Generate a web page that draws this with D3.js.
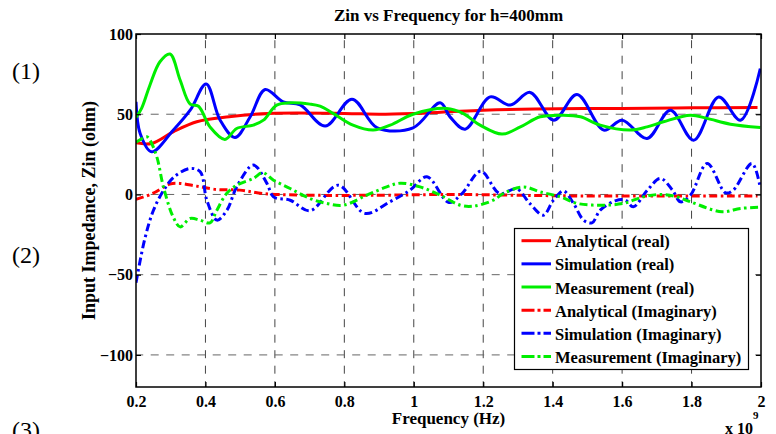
<!DOCTYPE html>
<html>
<head>
<meta charset="utf-8">
<script src="https://cdn.jsdelivr.net/npm/d3@7"></script>
<style>
  body { margin: 0; background: #fff; }
  svg text { font-family: "Liberation Serif", "Times New Roman", serif; font-weight: bold; fill: #000; }
</style>
</head>
<body>
<svg id="chart" width="776" height="434"></svg>
<script>
// frequency in GHz (axis is labelled x 10^9), impedance in ohm
const anaRealFreq = [0.2, 0.245, 0.307, 0.375, 0.468, 0.583, 0.8, 0.9, 1.0, 1.1, 1.2, 1.35, 1.6, 1.8, 1.99];
const anaRealZ    = [32.2, 31.8, 39, 45.3, 48.4, 50.5, 50.5, 50, 50.5, 51.5, 52.5, 53.3, 53.6, 54, 54.2];

const simRealFreq = [0.2, 0.212, 0.245, 0.307, 0.356, 0.402, 0.442, 0.485, 0.529, 0.572, 0.624, 0.673,
                     0.745, 0.822, 0.895, 0.998, 1.076, 1.105, 1.148, 1.22, 1.278, 1.335, 1.403, 1.47,
                     1.547, 1.6, 1.672, 1.739, 1.806, 1.878, 1.941, 1.998];
const simRealZ    = [57.7, 38, 26.6, 40, 52.5, 68.8, 46.4, 35.5, 48.4, 65.4, 57.7, 55.8,
                     42.6, 59.4, 41.5, 41.5, 57.1, 48.2, 40.7, 60.8, 55.7, 63.6, 46.3, 62.3,
                     40.1, 46.3, 34.9, 52.5, 33.8, 60.8, 46.3, 78.5];

const measRealFreq = [0.2, 0.216, 0.24, 0.269, 0.298, 0.327, 0.356, 0.38, 0.413, 0.456, 0.49, 0.538,
                      0.567, 0.605, 0.644, 0.701, 0.73, 0.768, 0.825, 0.883, 0.932, 0.998, 1.095,
                      1.142, 1.191, 1.254, 1.307, 1.364, 1.431, 1.48, 1.537, 1.624, 1.672, 1.719,
                      1.797, 1.845, 1.912, 1.998];
const measRealZ    = [48, 53.6, 68.1, 82.7, 87.5, 71.3, 56.3, 55, 42.1, 34.3, 41.1, 43.2,
                      46.3, 55.7, 57.1, 56.3, 55, 50.5, 43.2, 40.1, 43.2, 50, 53.6,
                      50.5, 43.2, 37.6, 42.1, 48.4, 49.4, 48.4, 43.2, 40.1, 42.1, 45.3,
                      49.4, 47.4, 43.8, 41.8];

const anaImagFreq = [0.2, 0.248, 0.297, 0.326, 0.374, 0.432, 0.499, 0.565, 0.673, 0.9, 1.1, 1.3, 1.5, 1.7, 1.99];
const anaImagZ    = [-3.1, 0.6, 6.4, 6.9, 5.2, 3.1, 2.7, 0.6, -0.4, -0.5, 0, -0.5, -1, -1, -1];

const simImagFreq = [0.2, 0.225, 0.25, 0.28, 0.31, 0.356, 0.385, 0.404, 0.433, 0.462, 0.49, 0.538,
                     0.577, 0.596, 0.644, 0.701, 0.782, 0.859, 0.931, 0.989, 1.038, 1.101, 1.139,
                     1.193, 1.247, 1.296, 1.334, 1.373, 1.402, 1.431, 1.46, 1.489, 1.513, 1.537,
                     1.58, 1.609, 1.632, 1.673, 1.71, 1.745, 1.768, 1.797, 1.845, 1.898, 1.92,
                     1.974, 1.998];
const simImagZ    = [-55, -28, -10, 2.7, 11, 16.2, 14.1, -3.6, -16, -9.8, 4.7, 18.3,
                     6.9, -1.5, -3.6, -10.2, 5.8, -11.8, -4.6, 2.7, 11, -5, 0.6,
                     14.5, 0.6, 3.5, -5.6, -12.9, -3.6, 2.2, -5.6, -16, -17.7, -9.8,
                     -4, -3.5, -7.7, 2.7, 10, 2.7, -4.6, -0.4, 19.3, 1, 2.7,
                     19.3, 4];

const measImagFreq = [0.2, 0.231, 0.24, 0.26, 0.279, 0.307, 0.327, 0.356, 0.384, 0.413, 0.433, 0.461,
                      0.49, 0.538, 0.565, 0.596, 0.644, 0.701, 0.75, 0.797, 0.865, 0.922, 0.961,
                      1.018, 1.076, 1.134, 1.171, 1.229, 1.258, 1.315, 1.364, 1.422, 1.471, 1.537,
                      1.603, 1.661, 1.71, 1.758, 1.797, 1.888, 1.941, 1.998];
const measImagZ    = [32.5, 35.9, 33.9, 23.4, 4.7, -14, -20.2, -15, -16, -17.7, -9.8, 0.6,
                      5.8, 10, 13.6, 8.9, 3.7, -2.5, -5.6, -6.7, -0.4, 4.7, 7,
                      4.7, -0.4, -6.7, -7.3, -3.6, 0.6, 4.7, 1.6, -1.5, -5.6, -6.7,
                      -5.6, -1.5, 0, -1.5, -4.6, -10.8, -8.7, -8];

const seriesNames = ['Analytical (real)', 'Simulation (real)', 'Measurement (real)',
                     'Analytical (Imaginary)', 'Simulation (Imaginary)', 'Measurement (Imaginary)'];
const xTicks = [0.2, 0.4, 0.6, 0.8, 1, 1.2, 1.4, 1.6, 1.8, 2];
const yTicks = [-100, -50, 0, 50, 100];

const RED = '#ff0000', BLUE = '#0000ff', GREEN = '#00ee00';
const DASHDOT = '8,3.5,2.5,3.5';

const series = [
  { name: seriesNames[0], f: anaRealFreq,  z: anaRealZ,  color: RED,   dash: null },
  { name: seriesNames[1], f: simRealFreq,  z: simRealZ,  color: BLUE,  dash: null },
  { name: seriesNames[2], f: measRealFreq, z: measRealZ, color: GREEN, dash: null },
  { name: seriesNames[3], f: anaImagFreq,  z: anaImagZ,  color: RED,   dash: DASHDOT },
  { name: seriesNames[4], f: simImagFreq,  z: simImagZ,  color: BLUE,  dash: DASHDOT },
  { name: seriesNames[5], f: measImagFreq, z: measImagZ, color: GREEN, dash: DASHDOT }
];

const svg = d3.select('#chart');
const plotL = 136, plotR = 761, plotT = 34, plotB = 387;

const x = d3.scaleLinear().domain([0.2, 2]).range([plotL, plotR]);
const y = d3.scaleLinear().domain([-120, 100]).range([plotB, plotT]);

// grid
svg.append('g')
  .selectAll('line')
  .data(xTicks.slice(1, -1))
  .join('line')
  .attr('x1', d => x(d)).attr('x2', d => x(d))
  .attr('y1', plotT).attr('y2', plotB)
  .attr('stroke', '#444')
  .attr('stroke-dasharray', '8,7.5')
  .attr('stroke-dashoffset', 9.3);

svg.append('g')
  .selectAll('line')
  .data(yTicks.slice(0, -1))
  .join('line')
  .attr('x1', plotL).attr('x2', plotR)
  .attr('y1', d => y(d)).attr('y2', d => y(d))
  .attr('stroke', '#666')
  .attr('stroke-dasharray', '8,7.5')
  .attr('stroke-dashoffset', 0.8);

// curves
svg.append('clipPath').attr('id', 'clip')
  .append('rect')
  .attr('x', plotL).attr('y', plotT)
  .attr('width', plotR - plotL).attr('height', plotB - plotT);

const line = d3.line()
  .x(d => x(d[0]))
  .y(d => y(d[1]))
  .curve(d3.curveCatmullRom.alpha(0.5));

svg.append('g')
  .attr('clip-path', 'url(#clip)')
  .selectAll('path')
  .data(series)
  .join('path')
  .attr('d', s => line(s.f.map((f, i) => [f, s.z[i]])))
  .attr('fill', 'none')
  .attr('stroke', s => s.color)
  .attr('stroke-width', 3)
  .attr('stroke-dasharray', s => s.dash);

// axes, ticks pointing inward
svg.append('g')
  .attr('transform', `translate(0,${plotB})`)
  .call(d3.axisBottom(x).tickValues(xTicks).tickFormat(d3.format('')).tickSize(-5).tickSizeOuter(0).tickPadding(8.6));
svg.append('g')
  .attr('transform', `translate(0,${plotT})`)
  .call(d3.axisTop(x).tickValues(xTicks).tickFormat('').tickSize(-5).tickSizeOuter(0));
svg.append('g')
  .attr('transform', `translate(${plotL},0)`)
  .call(d3.axisLeft(y).tickValues(yTicks).tickSize(-5).tickSizeOuter(0).tickPadding(3));
svg.append('g')
  .attr('transform', `translate(${plotR},0)`)
  .call(d3.axisRight(y).tickValues(yTicks).tickFormat('').tickSize(-5).tickSizeOuter(0));

svg.selectAll('.domain').remove();
svg.selectAll('.tick line').attr('stroke', '#000').attr('stroke-width', 1.2);
svg.selectAll('.tick text')
  .attr('font-size', 16)
  .attr('font-family', '"Liberation Serif", serif')
  .attr('font-weight', 'bold');

svg.append('rect')
  .attr('x', plotL).attr('y', plotT)
  .attr('width', plotR - plotL).attr('height', plotB - plotT)
  .attr('fill', 'none')
  .attr('stroke', '#000')
  .attr('stroke-width', 1.5);

// labels
svg.append('text')
  .attr('x', (plotL + plotR) / 2).attr('y', 21)
  .attr('text-anchor', 'middle').attr('font-size', 17)
  .text('Zin vs Frequency for h=400mm');

svg.append('text')
  .attr('x', (plotL + plotR) / 2).attr('y', 424)
  .attr('text-anchor', 'middle').attr('font-size', 17)
  .text('Frequency (Hz)');

svg.append('text')
  .attr('transform', `translate(95,${(plotT + plotB) / 2}) rotate(-90)`)
  .attr('text-anchor', 'middle').attr('font-size', 18)
  .text('Input Impedance, Zin (ohm)');

const expo = svg.append('text').attr('x', 725).attr('y', 434).attr('font-size', 16);
expo.append('tspan').text('x 10');
expo.append('tspan').attr('font-size', 11).attr('dy', -15).text('9');

// side markers
svg.selectAll('.marker')
  .data(['(1)', '(2)', '(3)'])
  .join('text')
  .attr('class', 'marker')
  .attr('x', 12)
  .attr('y', (d, i) => [79, 263, 438][i])
  .attr('font-size', 24)
  .style('font-weight', 'normal')
  .text(d => d);

// legend
const legend = svg.append('g');
legend.append('rect')
  .attr('x', 514.5).attr('y', 228.5)
  .attr('width', 234).attr('height', 141)
  .attr('fill', '#fff')
  .attr('stroke', '#000')
  .attr('stroke-width', 1.2);

const item = legend.selectAll('.item')
  .data(series)
  .join('g')
  .attr('class', 'item')
  .attr('transform', (d, i) => `translate(0,${240.7 + i * 23.15})`);

item.append('line')
  .attr('x1', 521.5).attr('x2', 551)
  .attr('stroke', d => d.color)
  .attr('stroke-width', 3)
  .attr('stroke-dasharray', d => d.dash ? '13,3,3,3' : null);

item.append('text')
  .attr('x', 555).attr('y', 6.5)
  .attr('font-size', 16.5)
  .text(d => d.name);
</script>
</body>
</html>
